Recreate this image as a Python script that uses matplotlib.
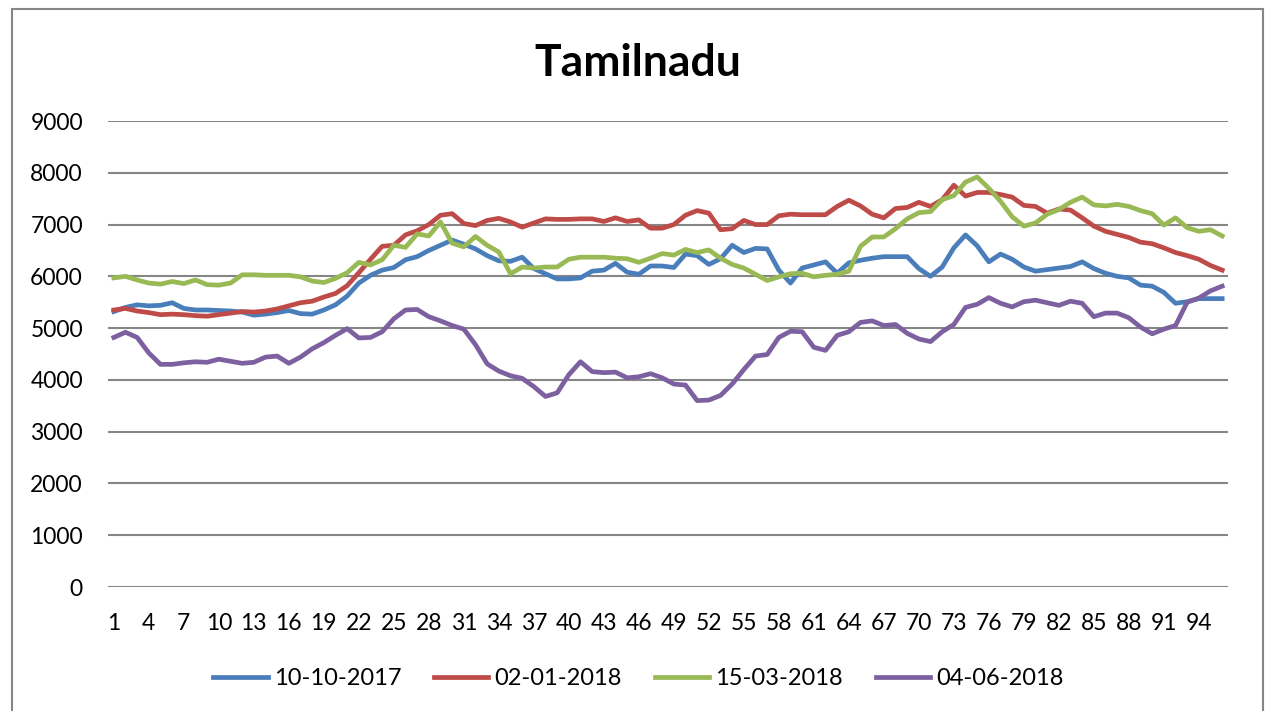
import numpy as np
import matplotlib.pyplot as plt
from matplotlib.patches import Rectangle

x = np.arange(1, 97)

s_2017_10 = [5320, 5400, 5450, 5430, 5440, 5490, 5380, 5350, 5350, 5340,
             5330, 5310, 5250, 5270, 5300, 5340, 5280, 5270, 5350, 5450,
             5620, 5870, 6020, 6120, 6170, 6320, 6380, 6500, 6600, 6700,
             6620, 6530, 6400, 6300, 6290, 6370, 6150, 6050, 5950, 5950,
             5970, 6100, 6120, 6250, 6080, 6040, 6200, 6200, 6170, 6430,
             6400, 6230, 6340, 6600, 6460, 6540, 6530, 6120, 5870, 6160,
             6220, 6280, 6060, 6260, 6310, 6350, 6380, 6380, 6380, 6150,
             6000, 6180, 6550, 6800, 6590, 6280, 6430, 6330, 6180, 6100,
             6130, 6160, 6190, 6280, 6150, 6060, 6000, 5970, 5830, 5810,
             5690, 5480, 5510, 5570, 5570, 5570]

s_2018_01 = [5350, 5380, 5330, 5300, 5260, 5270, 5260, 5240, 5230, 5260,
             5290, 5320, 5310, 5330, 5370, 5430, 5490, 5520, 5600, 5670,
             5820, 6070, 6330, 6580, 6600, 6800, 6880, 7000, 7180, 7210,
             7020, 6980, 7080, 7120, 7050, 6950, 7030, 7110, 7100, 7100,
             7110, 7110, 7060, 7130, 7060, 7090, 6930, 6930, 7000, 7180,
             7270, 7220, 6900, 6920, 7080, 7000, 7000, 7170, 7200, 7190,
             7190, 7190, 7350, 7470, 7360, 7200, 7130, 7310, 7330, 7430,
             7350, 7480, 7760, 7550, 7620, 7620, 7580, 7530, 7370, 7350,
             7220, 7300, 7280, 7130, 6970, 6870, 6810, 6750, 6660, 6630,
             6550, 6460, 6400, 6330, 6210, 6120]

s_2018_03 = [5970, 6000, 5930, 5870, 5850, 5900, 5860, 5930, 5840, 5830,
             5870, 6030, 6030, 6020, 6020, 6020, 5990, 5910, 5880, 5960,
             6070, 6270, 6220, 6320, 6600, 6560, 6820, 6780, 7050, 6640,
             6570, 6770, 6600, 6470, 6050, 6180, 6160, 6180, 6180, 6330,
             6370, 6370, 6370, 6350, 6340, 6270, 6350, 6440, 6410, 6520,
             6460, 6510, 6350, 6230, 6160, 6040, 5920, 5990, 6050, 6060,
             5990, 6020, 6040, 6100, 6580, 6760, 6760, 6920, 7110, 7230,
             7250, 7480, 7560, 7820, 7920, 7700, 7450, 7150, 6970, 7030,
             7200, 7290, 7430, 7530, 7380, 7360, 7390, 7350, 7270, 7210,
             6990, 7130, 6940, 6870, 6900, 6780]

s_2018_06 = [4820, 4920, 4820, 4520, 4300, 4300, 4330, 4350, 4340, 4400,
             4360, 4320, 4340, 4440, 4460, 4320, 4440, 4600, 4720, 4860,
             4990, 4810, 4820, 4930, 5180, 5350, 5360, 5220, 5140, 5050,
             4980, 4680, 4310, 4170, 4080, 4030, 3870, 3680, 3750, 4100,
             4350, 4160, 4140, 4150, 4040, 4060, 4120, 4040, 3920, 3900,
             3600, 3610, 3700, 3920, 4200, 4460, 4490, 4820, 4940, 4930,
             4630, 4570, 4860, 4930, 5110, 5140, 5050, 5070, 4900, 4790,
             4740, 4930, 5070, 5400, 5460, 5590, 5480, 5410, 5510, 5540,
             5490, 5440, 5520, 5480, 5220, 5290, 5290, 5200, 5020, 4890,
             4980, 5050, 5500, 5580, 5720, 5810]

labels = ["10-10-2017", "02-01-2018", "15-03-2018", "04-06-2018"]
colors = ["#4A7EBB", "#BE4B48", "#98B954", "#7D60A0"]
series = [s_2017_10, s_2018_01, s_2018_03, s_2018_06]

plt.rcParams['font.family'] = ['Lato', 'DejaVu Sans']

fig = plt.figure(figsize=(12.69, 7.11), dpi=100)
ax = fig.add_axes([0.0851, 0.1744, 0.8826, 0.6554])

for vals, lab, col in zip(series, labels, colors):
    ax.plot(x, vals, color=col, lw=3.4, label=lab, solid_joinstyle='round')

ax.set_xlim(0.5, 96.5)
ax.set_ylim(0, 9000)
ax.set_yticks(np.arange(0, 9001, 1000))
ax.set_xticks(np.arange(1, 96, 3))
ax.grid(axis='y', color='#868686', lw=1.5)
ax.set_axisbelow(True)
for sp in ax.spines.values():
    sp.set_visible(False)
ax.tick_params(length=0, labelsize=16.5)
ax.tick_params(axis='x', pad=19)
ax.tick_params(axis='y', pad=18)

fig.text(0.503, 0.912, "Tamilnadu", ha='center', va='center',
         fontsize=32, fontweight='bold')

fig.legend(loc='center', bbox_to_anchor=(0.503, 0.046), ncol=4, frameon=False,
           fontsize=17, handlelength=2.3, columnspacing=1.4, handletextpad=0.25)

fig.patches.append(Rectangle((0.0095, -0.01), 0.9858, 0.997, transform=fig.transFigure,
                             fill=False, edgecolor='#868686', lw=1.5))

fig.savefig("out.png", dpi=100)
